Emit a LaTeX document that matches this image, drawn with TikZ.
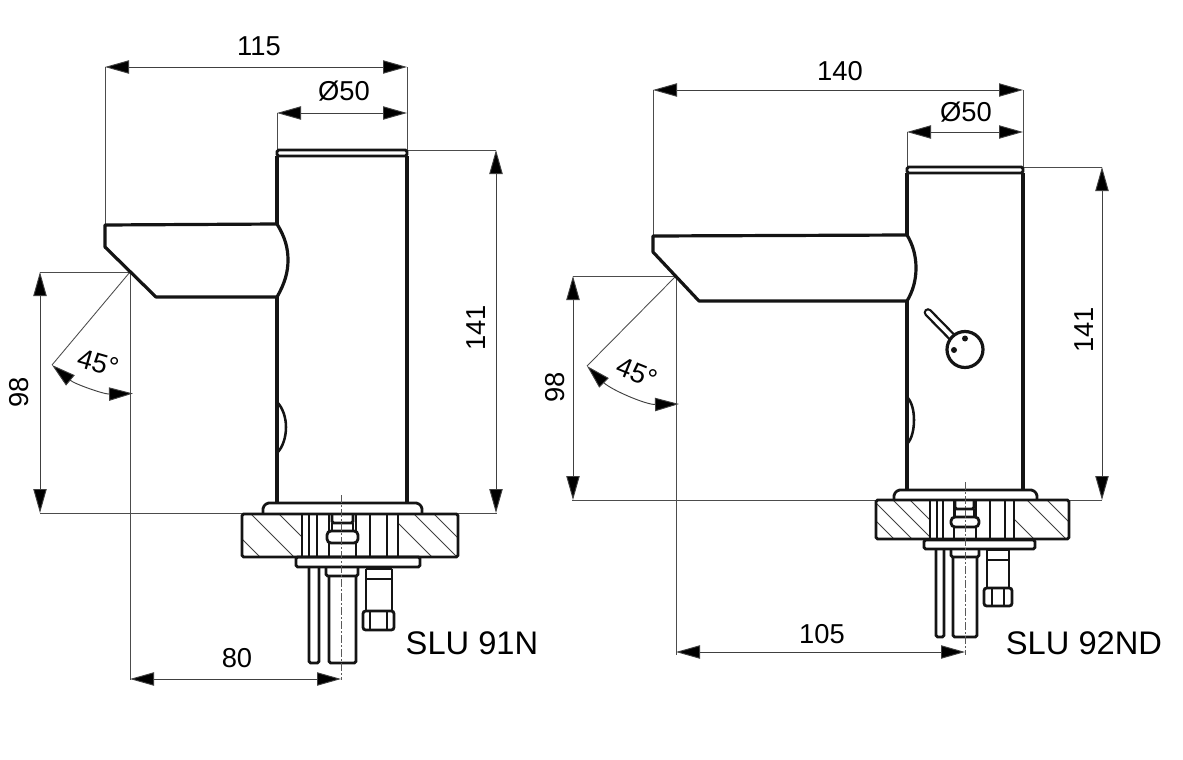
\documentclass[tikz,border=0pt]{standalone}
\usepackage{fontspec}
\setmainfont{Liberation Sans}
\usetikzlibrary{arrows.meta}

\begin{document}
\begin{tikzpicture}
		[x=0.75pt, y=-0.75pt,
			body/.style ={draw=black!92, line width=2.4pt, line join=round},
			part/.style ={draw=black!92, line width=2.1pt, rounded corners=1.2pt},
			thinline/.style ={draw=black!70, line width=0.65pt},
			dimline/.style ={draw=black!75, line width=0.7pt, {Triangle[length=18pt,width=10pt,fill=black]}-{Triangle[length=18pt,width=10pt,fill=black]}},
			hatch/.style ={draw=black!75, line width=0.6pt},
			axisline/.style ={draw=black!65, line width=0.5pt, dash pattern=on 6pt off 1.5pt on 1.5pt off 1.5pt},
			dimtext/.style ={font=\fontsize{20.5}{23}\selectfont, inner sep=0pt},
			nametext/.style ={font=\fontsize{24.5}{28}\selectfont, inner sep=0pt}]
		\useasboundingbox (0,0) rectangle (1183,760);
		% left fitting: extension lines
		\draw[thinline] (105,67) -- (105,225);
		\draw[thinline] (407,67) -- (407,150);
		\draw[thinline] (277,113) -- (277,150);
		\draw[thinline] (407,150) -- (496,150);
		\draw[thinline] (40,513.5) -- (497,513.5);
		\draw[thinline] (40,272) -- (130,272);
		\draw[thinline] (130,272) -- (130,680);
		\draw[thinline] (130,272) -- (52,365);
		% left fitting: dimensions
		\draw[dimline] (105,67) -- (407,67);
		\draw[dimline] (277,113) -- (407,113);
		\draw[dimline] (496,150) -- (496,513);
		\draw[dimline] (40,272) -- (40,513);
		\draw[dimline] (130,679) -- (341,679);
		\draw[dimline] (52,365) .. controls (74.7,384) and (103.5,394.2) .. (133,393.5);
		\node[dimtext] (widthA) at (259,46) {115};
		\node[dimtext] (boreA) at (344,91) {Ø50};
		\node[dimtext, rotate=90] (heightA) at (476,328) {141};
		\node[dimtext, rotate=90] (outletA) at (19,392) {98};
		\node[dimtext, rotate=-16] (angleA) at (98,363) {45°};
		\node[dimtext] (reachA) at (237,658) {80};
		\node[nametext] (nameA) at (472,643) {SLU 91N};
		% left fitting: body
		\draw[part] (277,150) rectangle (407,156);
		\draw[body] (277,224) -- (277,156);
		\draw[body] (407,156) -- (407,503);
		\draw[body] (277,297) -- (277,503);
		\draw[body] (277,224) -- (105,225) -- (105,247) -- (156,297) -- (277,297);
		\draw[body] (277,224) .. controls (285,237) and (288,248) .. (288,260) .. controls (288,272) and (285,283) .. (277,297);
		\draw[body, line width=1.9pt] (277,402) .. controls (283,408) and (286,418) .. (286,427) .. controls (286,437) and (283,447) .. (277,453);
		% left fitting: mounting
		\draw[part] (263,513) -- (263,507) -- (267,503) -- (418,503) -- (422,507) -- (422,513);
		\begin{scope}
			\clip (242,514) rectangle (302,557) (398,514) rectangle (458,557);
			\foreach \o in {217,251,279,389,414,434}
				\draw[hatch] (\o,514) -- ++(60,60);
		\end{scope}
		\draw[part] (242,514) rectangle (458,557);
		\foreach \x in {302,317,329,356,370,387,398}
			\draw[part] (\x,514) -- (\x,557);
		\draw[part, line width=1.3pt] (309,514) -- (309,557);
		\draw[part] (332,514) -- (332,523) -- (353,523) -- (353,514);
		\draw[part] (332,523) -- (332,531);
		\draw[part] (353,523) -- (353,531);
		\draw[part, fill=white, rounded corners=3pt] (327,531) rectangle (358,543);
		\draw[part] (296,557) rectangle (420,567);
		\draw[part] (309,567) -- (309,663) -- (319,663) -- (319,567);
		\draw[part] (326,568) -- (326,576) -- (358,576) -- (358,568);
		\draw[part] (329,576) -- (329,663) -- (356,663) -- (356,576);
		\draw[part] (366,569) -- (392,569);
		\draw[part] (366,579) -- (392,579);
		\draw[part] (366,569) -- (366,610);
		\draw[part] (392,569) -- (392,610);
		\draw[part, rounded corners=2pt] (363,611) rectangle (394,630);
		\draw[part] (370,611) -- (370,630);
		\draw[part] (387,611) -- (387,630);
		\draw[axisline] (341.5,495) -- (341.5,680);

		% right fitting: extension lines
		\draw[thinline] (653,90) -- (653,236);
		\draw[thinline] (1023,90) -- (1023,167);
		\draw[thinline] (907,132) -- (907,167);
		\draw[thinline] (1023,167) -- (1102,167);
		\draw[thinline] (572,500) -- (1102,500);
		\draw[thinline] (573,276) -- (676,276);
		\draw[thinline] (676,276) -- (676,655);
		\draw[thinline] (676,276) -- (587,366);
		% right fitting: dimensions
		\draw[dimline] (653,90) -- (1023,90);
		\draw[dimline] (907,132) -- (1023,132);
		\draw[dimline] (1102,167) -- (1102,500);
		\draw[dimline] (573,276) -- (573,500);
		\draw[dimline] (676,652) -- (965,652);
		\draw[dimline] (587,366) .. controls (610.8,389.6) and (645.5,404.7) .. (679,404);
		\node[dimtext] (widthB) at (840,71) {140};
		\node[dimtext] (boreB) at (966,112) {Ø50};
		\node[dimtext, rotate=90] (heightB) at (1084,330) {141};
		\node[dimtext, rotate=90] (outletB) at (555,387) {98};
		\node[dimtext, rotate=-22] (angleB) at (637,373) {45°};
		\node[dimtext] (reachB) at (822,634) {105};
		\node[nametext] (nameB) at (1084,643) {SLU 92ND};
		% right fitting: body
		\draw[part] (907,167) rectangle (1023,173);
		\draw[body] (907,235) -- (907,173);
		\draw[body] (1023,173) -- (1023,490);
		\draw[body] (907,301) -- (907,490);
		\draw[body] (907,235) -- (653,236) -- (653,252) -- (699,301) -- (907,301);
		\draw[body] (907,235) .. controls (913,245) and (916,256) .. (916,268) .. controls (916,280) and (913,291) .. (907,301);
		\draw[body, line width=1.9pt] (907,397) .. controls (912,402) and (914,411) .. (914,420) .. controls (914,429) and (912,439) .. (907,444);
		\draw[draw=black!92, line width=6.5pt, line cap=round] (928,312.5) -- (953,338);
		\draw[draw=white, line width=3pt, line cap=round] (928,312.5) -- (953,338);
		\draw[body, fill=white] (965,349.5) circle (18);
		\fill[black!92] (965,338.5) circle (3);
		\fill[black!92] (954,350) circle (3);
		% right fitting: mounting
		\draw[part] (894,499.5) -- (894,494) -- (898,490) -- (1033,490) -- (1037,494) -- (1037,499.5);
		\begin{scope}
			\clip (876,500) rectangle (929,539) (1015,500) rectangle (1069,539);
			\foreach \o in {855,873,893,910,995,1027,1047}
				\draw[hatch] (\o,500) -- ++(60,60);
		\end{scope}
		\draw[part] (876,500) rectangle (1069,539);
		\foreach \x in {930,943,954,976,990,1005,1014}
			\draw[part] (\x,500) -- (\x,539);
		\draw[part, line width=1.3pt] (937,500) -- (937,539);
		\draw[part] (955,500) -- (955,509) -- (974,509) -- (974,500);
		\draw[part] (955,509) -- (955,517);
		\draw[part] (974,509) -- (974,517);
		\draw[part, fill=white, rounded corners=3pt] (951,517) rectangle (979,527);
		\draw[part] (924,540) rectangle (1035,549);
		\draw[part] (936,549) -- (936,637) -- (944,637) -- (944,549);
		\draw[part] (951,550) -- (951,557) -- (979,557) -- (979,550);
		\draw[part] (953,557) -- (953,637) -- (977,637) -- (977,557);
		\draw[part] (987,550) -- (1009,550);
		\draw[part] (987,560) -- (1009,560);
		\draw[part] (987,550) -- (987,588);
		\draw[part] (1009,550) -- (1009,588);
		\draw[part, rounded corners=2pt] (984,588) rectangle (1012,606);
		\draw[part] (992,588) -- (992,606);
		\draw[part] (1004,588) -- (1004,606);
		\draw[axisline] (965,482) -- (965,655);
	\end{tikzpicture}
\end{document}
